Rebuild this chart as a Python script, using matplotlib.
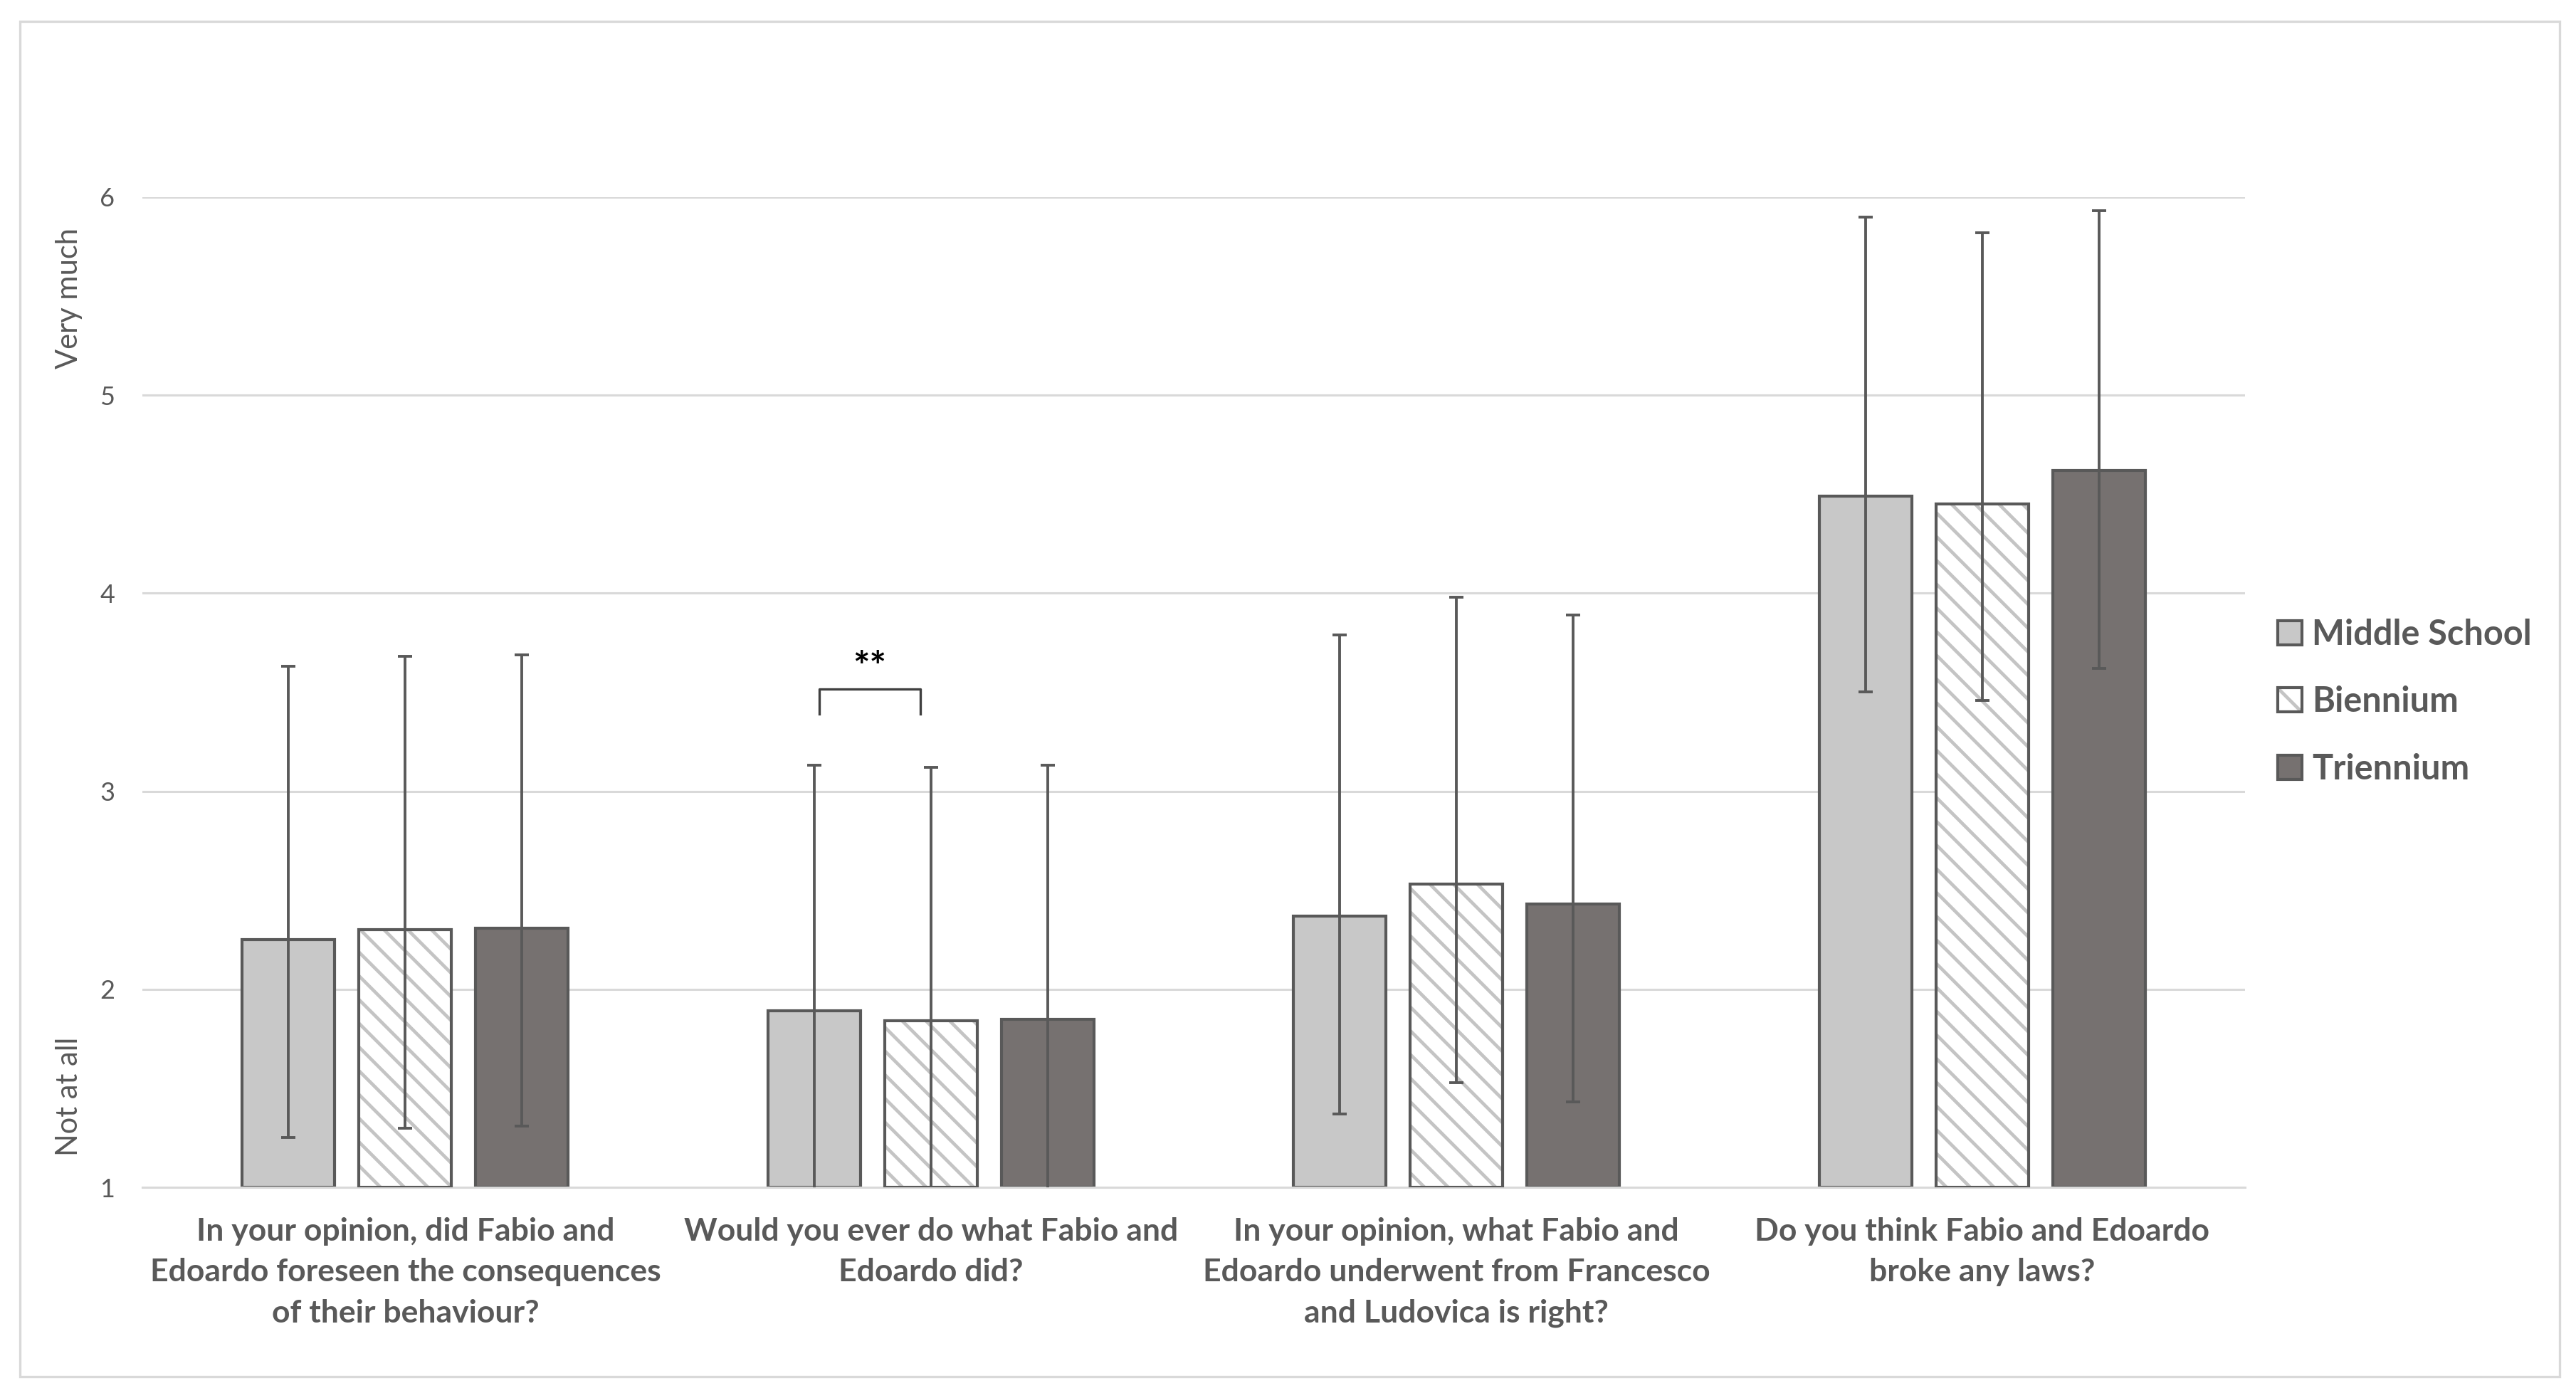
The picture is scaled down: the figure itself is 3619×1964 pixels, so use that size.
import numpy as np
import matplotlib.pyplot as plt
from matplotlib.patches import Patch, Rectangle
from matplotlib.legend_handler import HandlerTuple

plt.rcParams['font.family'] = ['Lato', 'DejaVu Sans']
plt.rcParams['hatch.linewidth'] = 1.7

# data
questions = ["In your opinion, did Fabio and\nEdoardo foreseen the consequences\nof their behaviour?",
             "Would you ever do what Fabio and\nEdoardo did?",
             "In your opinion, what Fabio and\nEdoardo underwent from Francesco\nand Ludovica is right?",
             "Do you think Fabio and Edoardo\nbroke any laws?"]
groups = ["Middle School", "Biennium", "Triennium"]
middle_school = [2.25, 1.89, 2.37, 4.49]
biennium = [2.30, 1.84, 2.53, 4.45]
triennium = [2.31, 1.85, 2.43, 4.62]
ms_err_up = [1.38, 1.24, 1.42, 1.41]
bi_err_up = [1.38, 1.28, 1.45, 1.37]
tr_err_up = [1.38, 1.28, 1.46, 1.31]
ms_err_low = [1.0, 1.0, 1.0, 0.99]
bi_err_low = [1.0, 1.0, 1.0, 0.99]
tr_err_low = [1.0, 1.0, 1.0, 1.0]
yticks = [1, 2, 3, 4, 5, 6]

txt = '#595959'
edge = '#595959'
grid = '#d9d9d9'
hatch_col = '#c4c4c4'

fig = plt.figure(figsize=(36.19 / 2, 19.64 / 2), dpi=200)
ax = fig.add_axes([0.0553, 0.1507, 0.8162, 0.7083])

# outer chart frame
fig.patches.append(Rectangle((0.0077, 0.0153), 0.9859, 0.9695, transform=fig.transFigure,
                             fill=False, edgecolor=grid, linewidth=1.2))

x = np.arange(len(questions))
w = 0.176
step = 0.222
base = 1

ax.bar(x - step, np.array(middle_school) - base, w, bottom=base, color='#c8c8c8',
       edgecolor=edge, linewidth=1.5, zorder=2)
ax.bar(x, np.array(biennium) - base, w, bottom=base, color='white',
       edgecolor=hatch_col, hatch='\\\\', linewidth=0, zorder=2)
ax.bar(x, np.array(biennium) - base, w, bottom=base, fill=False,
       edgecolor=edge, linewidth=1.5, zorder=3)
ax.bar(x + step, np.array(triennium) - base, w, bottom=base, color='#767170',
       edgecolor=edge, linewidth=1.5, zorder=2)

for off, vals, lo, up in [(-step, middle_school, ms_err_low, ms_err_up),
                          (0, biennium, bi_err_low, bi_err_up),
                          (step, triennium, tr_err_low, tr_err_up)]:
    ax.errorbar(x + off, vals, yerr=[lo, up], fmt='none', ecolor=edge,
                elinewidth=1.4, capsize=3.6, capthick=1.4, zorder=4)

# significance bracket between Middle School and Biennium, question 2
bx0 = x[1] - step + 0.01
bx1 = x[1] - 0.02
ax.plot([bx0, bx0, bx1, bx1], [3.39, 3.515, 3.515, 3.39], color='#404040', lw=1.2,
        zorder=5, clip_on=False)
ax.text((bx0 + bx1) / 2, 3.62, '**', ha='center', va='center', fontsize=20,
        fontweight='bold', color='black')

ax.set_xlim(-0.5, 3.5)
ax.set_ylim(1, 6)
ax.set_yticks(yticks)
ax.set_yticklabels([str(t) for t in yticks], color=txt, fontsize=13)
ax.set_xticks(x)
ax.set_xticklabels(questions, fontsize=16, fontweight='bold', color=txt, linespacing=1.53)
ax.tick_params(axis='y', length=0, pad=14)
ax.tick_params(axis='x', length=0, pad=15)
ax.grid(axis='y', color=grid, linewidth=1.1, zorder=0)
ax.set_axisbelow(True)
for s in ['top', 'right', 'left']:
    ax.spines[s].set_visible(False)
ax.spines['bottom'].set_color(grid)
ax.spines['bottom'].set_linewidth(1.1)

ax.text(-0.035, 0.898, 'Very much', transform=ax.transAxes, rotation=90, ha='center',
        va='center', fontsize=15, color=txt)
ax.text(-0.035, 0.092, 'Not at all', transform=ax.transAxes, rotation=90, ha='center',
        va='center', fontsize=15, color=txt)

handles = [Patch(facecolor='#c8c8c8', edgecolor=edge, linewidth=1.5),
           (Patch(facecolor='white', edgecolor=hatch_col, hatch='\\\\', linewidth=0),
            Patch(fill=False, edgecolor=edge, linewidth=1.5)),
           Patch(facecolor='#767170', edgecolor=edge, linewidth=1.5)]
leg = fig.legend(handles, groups, loc='center left', bbox_to_anchor=(0.872, 0.498),
                 frameon=False, fontsize=17.5, handlelength=0.7, handleheight=0.7,
                 handletextpad=0.3, labelspacing=1.02,
                 handler_map={tuple: HandlerTuple(ndivide=1, pad=0)})
for t in leg.get_texts():
    t.set_color(txt)
    t.set_fontweight('bold')

fig.savefig('out.png', dpi=200, facecolor='white')
